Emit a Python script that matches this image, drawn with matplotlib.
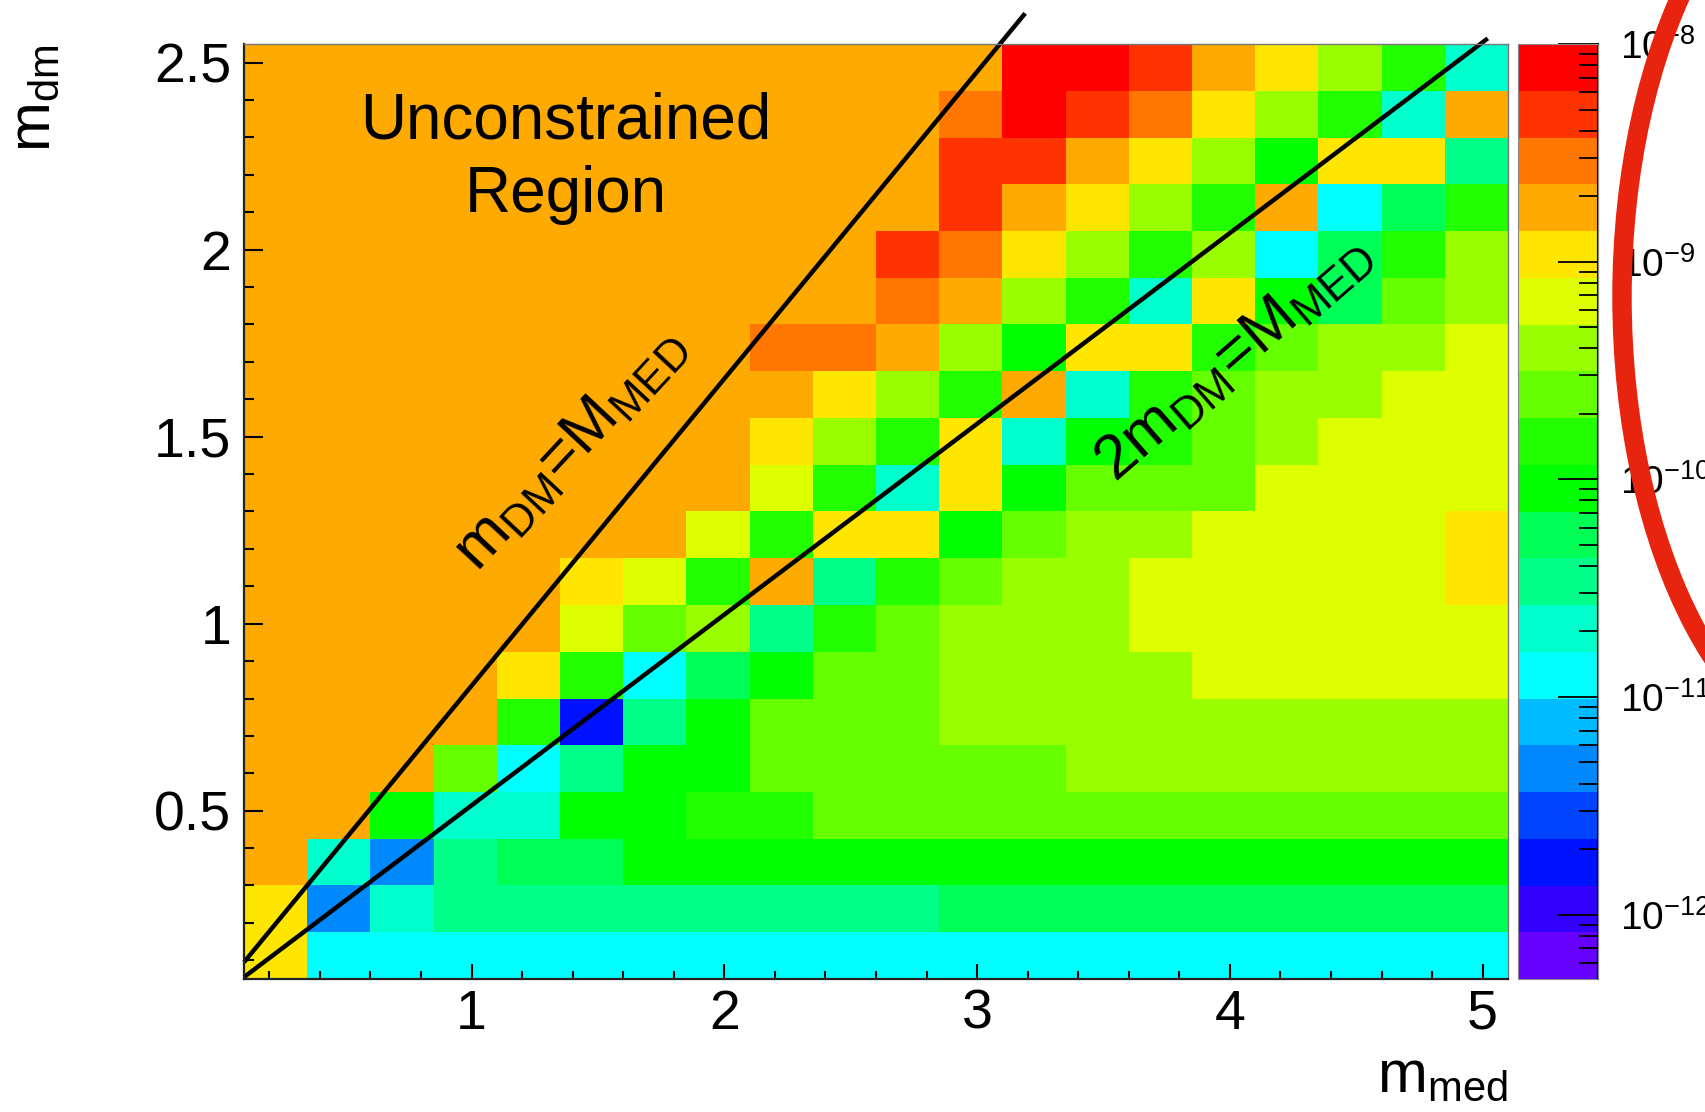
import numpy as np
import matplotlib
matplotlib.use("Agg")
import matplotlib.pyplot as plt
from matplotlib.colors import ListedColormap, LogNorm
from matplotlib.patches import Ellipse
from matplotlib.ticker import LogLocator, NullFormatter, MultipleLocator

plt.rcParams['font.family'] = ['Liberation Sans', 'DejaVu Sans']
plt.rcParams['mathtext.fontset'] = 'custom'
plt.rcParams['mathtext.rm'] = 'Liberation Sans'
plt.rcParams['mathtext.it'] = 'Liberation Sans:italic'
plt.rcParams['mathtext.default'] = 'regular'

# Bin edges of the scan
m_med_edges = np.linspace(0.1, 5.1, 21)
m_dm_edges = np.linspace(0.05, 2.55, 21)

# log10 of the limit in each bin, rows from low to high m_dm
log_limit = [
    [-9.0] + [-10.9]*19,
    [-9.0, -11.3, -10.7] + [-10.5]*8 + [-10.3]*9,
    [-8.8, -10.7, -11.3, -10.5, -10.3, -10.3] + [-10.0]*14,
    [-8.8, -8.8, -10.0, -10.7, -10.7, -10.0, -10.0, -9.8, -9.8] + [-9.6]*11,
    [-8.8]*3 + [-9.6, -10.9, -10.5, -10.0, -10.0] + [-9.6]*5 + [-9.4]*7,
    [-8.8]*4 + [-9.8, -11.8, -10.5, -10.0, -9.6, -9.6, -9.6] + [-9.4]*9,
    [-8.8]*4 + [-9.0, -9.8, -10.9, -10.3, -10.0, -9.6, -9.6] + [-9.4]*4 + [-9.2]*5,
    [-8.8]*5 + [-9.2, -9.6, -9.4, -10.5, -9.8, -9.6, -9.4, -9.4, -9.4] + [-9.2]*6,
    [-8.8]*5 + [-9.0, -9.2, -9.8, -8.8, -10.5, -9.8, -9.6, -9.4, -9.4] + [-9.2]*5 + [-9.0],
    [-8.8]*7 + [-9.2, -9.8, -9.0, -9.0, -10.0, -9.6, -9.4, -9.4] + [-9.2]*4 + [-9.0],
    [-8.8]*8 + [-9.2, -9.8, -10.7, -9.0, -10.0, -9.6, -9.6, -9.6] + [-9.2]*4,
    [-8.8]*8 + [-9.0, -9.4, -9.8, -9.0, -10.7, -10.0, -9.8, -9.6, -9.4] + [-9.2]*3,
    [-8.8]*9 + [-9.0, -9.4, -9.8, -8.8, -10.7, -9.8, -9.6, -9.4, -9.4, -9.2, -9.2],
    [-8.8]*8 + [-8.5, -8.5, -8.8, -9.4, -10.0, -9.0, -9.0, -9.8, -9.6, -9.4, -9.4, -9.2],
    [-8.8]*10 + [-8.5, -8.8, -9.4, -9.8, -10.7, -9.0, -10.0, -10.3, -9.6, -9.4],
    [-8.8]*10 + [-8.3, -8.5, -9.0, -9.4, -9.8, -9.4, -10.9, -10.3, -9.8, -9.4],
    [-8.8]*11 + [-8.3, -8.8, -9.0, -9.4, -9.8, -8.8, -10.9, -10.3, -9.8],
    [-8.8]*11 + [-8.3, -8.3, -8.8, -9.0, -9.4, -10.0, -9.0, -9.0, -10.5],
    [-8.8]*11 + [-8.5, -8.1, -8.3, -8.5, -9.0, -9.4, -9.8, -10.7, -8.8],
    [-8.8]*12 + [-8.1, -8.1, -8.3, -8.8, -9.0, -9.4, -9.8, -10.7],
]

z_min, z_max = 10**-12.296, 1e-8
palette = ['#6600ff', '#3300ff', '#0011ff', '#0044ff', '#0088ff',
           '#00bbff', '#00ffff', '#00ffcc', '#00ff88', '#00ff55',
           '#00ff00', '#22ff00', '#66ff00', '#99ff00', '#ddff00',
           '#ffe600', '#ffaa00', '#ff7700', '#ff3300', '#ff0000']

# guide lines, (x0, x1), (y0, y1)
line_dm_eq_med = ([0.1, 3.19], [0.095, 2.632])
line_2dm_eq_med = ([0.1, 5.02], [0.055, 2.565])

fig = plt.figure(figsize=(17.06, 11.12), dpi=100)
W, H = 1706, 1112
ax = fig.add_axes([244/W, 1 - 979/H, 1264/W, 935/H])
cax = fig.add_axes([1518/W, 1 - 979/H, 80/W, 935/H])

cmap = ListedColormap(palette)
norm = LogNorm(vmin=z_min, vmax=z_max)
mesh = ax.pcolormesh(m_med_edges, m_dm_edges, 10**np.array(log_limit),
                     cmap=cmap, norm=norm)

ax.set_xlim(0.1, 5.1)
ax.set_ylim(0.05, 2.55)
ax.set_xticks([1, 2, 3, 4, 5])
ax.set_xticklabels(['1', '2', '3', '4', '5'])
ax.set_yticks([0.5, 1, 1.5, 2, 2.5])
ax.set_yticklabels(['0.5', '1', '1.5', '2', '2.5'])
ax.xaxis.set_minor_locator(MultipleLocator(0.2))
ax.yaxis.set_minor_locator(MultipleLocator(0.1))
ax.tick_params(axis='x', which='major', direction='in', length=11, width=1.5,
               labelsize=40, pad=7)
ax.tick_params(axis='x', which='minor', direction='in', length=5.5, width=1.5)
ax.tick_params(axis='y', which='major', direction='in', length=14, width=1.5,
               labelsize=40, pad=9)
ax.tick_params(axis='y', which='minor', direction='in', length=7.5, width=1.5)
for side in ['left', 'bottom']:
    ax.spines[side].set_linewidth(1.6)
    ax.spines[side].set_color('#222222')
for side in ['top', 'right']:
    ax.spines[side].set_linewidth(1.0)
    ax.spines[side].set_color('#777777')

ax.plot(*line_dm_eq_med, color='k', lw=3.2, clip_on=False, solid_capstyle='butt')
ax.plot(*line_2dm_eq_med, color='k', lw=3.2, clip_on=False, solid_capstyle='butt')

ax.text(1.374, 2.245, 'Unconstrained\nRegion', ha='center', va='center',
        fontsize=46, linespacing=1.3, multialignment='center')
ax.text(1.392, 1.467, r'm$_{\mathrm{DM}}$=M$_{\mathrm{MED}}$', fontsize=45,
        rotation=47, rotation_mode='anchor', ha='center', va='center')
ax.text(4.015, 1.711, r'2m$_{\mathrm{DM}}$=M$_{\mathrm{MED}}$', fontsize=45,
        rotation=41, rotation_mode='anchor', ha='center', va='center')

# axis titles sit at the ends of the axes
fig.text(1508/W, 1 - 1092/H, r'm$_{\mathrm{med}}$', fontsize=43,
         ha='right', va='baseline')
fig.text(34/W, 1 - 44/H, r'm$_{\mathrm{dm}}$', fontsize=43, rotation=90,
         ha='center', va='top')

cb = fig.colorbar(mesh, cax=cax)
cb.set_ticks([1e-12, 1e-11, 1e-10, 1e-9, 1e-8])
cax.yaxis.set_minor_locator(LogLocator(base=10, subs=np.arange(2, 10)))
cax.yaxis.set_minor_formatter(NullFormatter())
cax.tick_params(which='major', direction='in', length=29, width=1.3,
                labelsize=28, pad=16, right=True, left=False)
cax.tick_params(which='minor', direction='in', length=14, width=1.3,
                right=True, left=False)
cb.outline.set_linewidth(0.8)
cb.outline.set_edgecolor('#888888')
cax.plot([1, 1], [0, 1], transform=cax.transAxes, color='k', lw=1.5,
         clip_on=False)

# red marker ring around the colour scale labels
ring = Ellipse((18.68, 8.15), 4.92, 9.30, transform=fig.dpi_scale_trans,
               fill=False, lw=14, edgecolor='#e8230e', zorder=10)
fig.add_artist(ring)

fig.savefig('out.png', dpi=100)
